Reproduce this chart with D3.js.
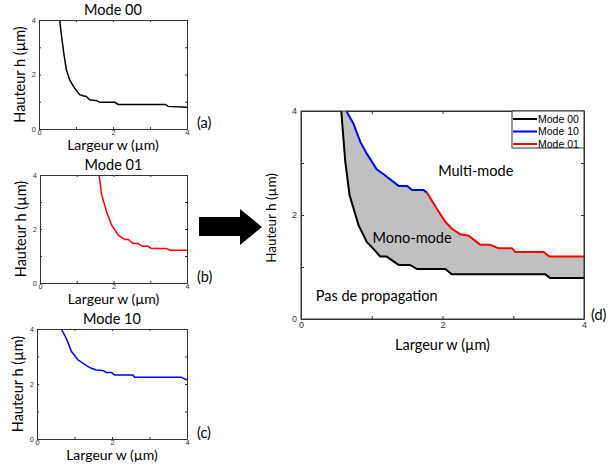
<!DOCTYPE html>
<html><head><meta charset="utf-8">
<script src="https://cdn.jsdelivr.net/npm/d3@7"></script>
<style>
body{margin:0;background:#fff;}
svg{display:block;}
</style></head>
<body>
<svg id="chart" width="610" height="466"></svg>
<script>
// ---- Data (w in µm, h in µm) ----
const mode00W = [0.56,0.60,0.67,0.74,0.83,0.96,1.10,1.23,1.27,1.37,1.50,1.55,1.64,2.05,2.14,3.42,3.49,4.0];
const mode00H = [4.0,3.51,2.78,2.17,1.80,1.50,1.26,1.20,1.20,1.07,1.05,1.05,0.98,0.98,0.90,0.90,0.83,0.80];

const mode01W = [1.61,1.67,1.81,1.95,2.13,2.31,2.40,2.53,2.67,2.79,2.94,3.03,3.44,3.53,4.0];
const mode01H = [4.0,3.32,2.64,2.14,1.77,1.61,1.61,1.46,1.46,1.36,1.36,1.28,1.28,1.21,1.21];

const mode10W = [0.65,0.78,0.92,1.09,1.32,1.45,1.58,1.76,1.85,1.98,2.07,2.56,2.60,3.85,3.94,4.0];
const mode10H = [4.0,3.66,3.18,2.88,2.67,2.57,2.51,2.49,2.42,2.42,2.33,2.33,2.25,2.25,2.18,2.15];

// Panel (d): cut-off curves
const dMode00W = [0.569,0.626,0.687,0.814,0.93,1.05,1.12,1.21,1.38,1.54,1.64,2.04,2.13,3.45,3.52,4.0];
const dMode00H = [4.0,3.02,2.38,1.80,1.48,1.31,1.20,1.20,1.04,1.04,0.96,0.96,0.86,0.86,0.79,0.79];
const dMode10W = [0.64,0.74,0.84,0.93,1.07,1.19,1.38,1.50,1.57,1.73,1.78];
const dMode10H = [4.0,3.76,3.40,3.18,2.88,2.76,2.56,2.56,2.48,2.48,2.43];
const dMode01W = [1.78,1.92,2.04,2.13,2.25,2.37,2.53,2.67,2.79,2.98,3.03,3.43,3.51,4.0];
const dMode01H = [2.43,2.12,1.87,1.74,1.63,1.60,1.43,1.43,1.36,1.36,1.29,1.29,1.20,1.20];

const axisTicks = [0,1,2,3,4];
const tickLabels = ["0","","2","","4"];
const legendNames = ["Mode 00","Mode 10","Mode 01"];
const legendColors = ["#000000","#0000ff","#ff0000"];
const regionLabels = ["Multi-mode","Mono-mode","Pas de propagation"];
const regionW = [2.47,1.57,1.07];
const regionH = [2.85,1.55,0.45];

const zip = (xs, ys) => xs.map((x,i)=>[x, ys[i]]);

const svg = d3.select("#chart");
const labelFont = "Lato, 'Open Sans', sans-serif";
const tickFont = "'Liberation Sans', Arial, sans-serif";

function panel(box, opts){
  const x = d3.scaleLinear().domain([0,4]).range([box.x0, box.x1]);
  const y = d3.scaleLinear().domain([0,4]).range([box.y1, box.y0]);
  const g = svg.append("g");
  const defsId = "clip" + opts.id;
  svg.append("clipPath").attr("id", defsId).append("rect")
    .attr("x", box.x0).attr("y", box.y0).attr("width", box.x1-box.x0).attr("height", box.y1-box.y0);

  // axes (inward ticks)
  const tl = opts.tickLen;
  const fmt = (d,i)=>tickLabels[i];
  const ax = [
    g.append("g").attr("transform",`translate(0,${box.y1})`).call(d3.axisBottom(x).tickValues(axisTicks).tickFormat(fmt).tickSizeInner(-tl).tickSizeOuter(0).tickPadding(opts.padX)),
    g.append("g").attr("transform",`translate(${box.x0},0)`).call(d3.axisLeft(y).tickValues(axisTicks).tickFormat(fmt).tickSizeInner(-tl).tickSizeOuter(0).tickPadding(opts.padY)),
    g.append("g").attr("transform",`translate(0,${box.y0})`).call(d3.axisTop(x).tickValues(axisTicks).tickFormat("").tickSizeInner(-tl).tickSizeOuter(0)),
    g.append("g").attr("transform",`translate(${box.x1},0)`).call(d3.axisRight(y).tickValues(axisTicks).tickFormat("").tickSizeInner(-tl).tickSizeOuter(0))
  ];
  ax.forEach(a=>{
    a.select(".domain").attr("stroke","#333");
    a.selectAll(".tick line").attr("stroke","#333");
    a.selectAll("text").attr("font-family",tickFont).attr("font-size",opts.tickSize).attr("fill","#333");
  });
  return {x,y,g,clip:"url(#"+defsId+")"};
}

const line = (sx,sy)=>d3.line().x(d=>sx(d[0])).y(d=>sy(d[1]));

function smallPanel(box, id, title, W, H, color, tag){
  const p = panel(box,{id, tickLen:2, tickSize:7.5, padX:1, padY:3});
  p.g.insert("path",":first-child").datum(zip(W,H)).attr("d", line(p.x,p.y))
    .attr("fill","none").attr("stroke",color).attr("stroke-width",1.5).attr("clip-path",p.clip);
  const cx = (box.x0+box.x1)/2;
  svg.append("text").attr("x",cx).attr("y",box.y0-5).attr("text-anchor","middle")
    .attr("font-family",labelFont).attr("font-size",14.5).text(title);
  svg.append("text").attr("x",cx).attr("y",box.y1+21).attr("text-anchor","middle")
    .attr("font-family",labelFont).attr("font-size",14).text("Largeur w (µm)");
  svg.append("text").attr("transform",`translate(${box.x0-14},${(box.y0+box.y1)/2}) rotate(-90)`)
    .attr("text-anchor","middle").attr("font-family",labelFont).attr("font-size",14.5).text("Hauteur h (µm)");
  svg.append("text").attr("x",197).attr("y",box.y1-1).attr("font-family",labelFont).attr("font-size",14.5).text(tag);
}

smallPanel({x0:39,x1:187,y0:20,y1:129},"a","Mode 00",mode00W,mode00H,"#000","(a)");
smallPanel({x0:40,x1:187,y0:175,y1:283},"b","Mode 01",mode01W,mode01H,"#ff0000","(b)");
smallPanel({x0:37,x1:187,y0:329,y1:439},"c","Mode 10",mode10W,mode10H,"#0000ff","(c)");

// ---- Panel (d) ----
const bd = {x0:301,x1:584,y0:111,y1:319};
const pd = panel(bd,{id:"d", tickLen:3, tickSize:9, padX:3, padY:4});
const upper = zip(dMode10W,dMode10H).concat(zip(dMode01W,dMode01H).slice(1));
const lower = zip(dMode00W,dMode00H);
const poly = upper.concat(lower.slice().reverse());
const dl = line(pd.x,pd.y);
const gd = svg.append("g").attr("clip-path",pd.clip);
gd.append("path").datum(poly).attr("d", dl(poly)+"Z").attr("fill","#c0c0c0").attr("stroke","none");
gd.append("path").datum(lower).attr("d",dl).attr("fill","none").attr("stroke","#000").attr("stroke-width",2);
gd.append("path").datum(zip(dMode10W,dMode10H)).attr("d",dl).attr("fill","none").attr("stroke","#0000ff").attr("stroke-width",2);
gd.append("path").datum(zip(dMode01W,dMode01H)).attr("d",dl).attr("fill","none").attr("stroke","#ff0000").attr("stroke-width",2);
// redraw frame on top
svg.append("rect").attr("x",bd.x0).attr("y",bd.y0).attr("width",bd.x1-bd.x0).attr("height",bd.y1-bd.y0)
  .attr("fill","none").attr("stroke","#333");

regionLabels.forEach((t,i)=>{
  svg.append("text").attr("x",pd.x(regionW[i])).attr("y",pd.y(regionH[i])).attr("dy","0.35em")
    .attr("text-anchor","middle").attr("font-family",labelFont).attr("font-size",14.5).text(t);
});

svg.append("text").attr("x",(bd.x0+bd.x1)/2).attr("y",350).attr("text-anchor","middle")
  .attr("font-family",labelFont).attr("font-size",14.5).text("Largeur w (µm)");
svg.append("text").attr("transform",`translate(276,${(bd.y0+bd.y1)/2+3}) rotate(-90)`)
  .attr("text-anchor","middle").attr("font-family",labelFont).attr("font-size",13.5).text("Hauteur h (µm)");
svg.append("text").attr("x",591).attr("y",320).attr("font-family",labelFont).attr("font-size",14.5).text("(d)");

// legend
const lg = svg.append("g");
lg.append("rect").attr("x",512).attr("y",bd.y0).attr("width",bd.x1-512).attr("height",37)
  .attr("fill","#fff").attr("stroke","#333");
legendNames.forEach((n,i)=>{
  const yy = 119 + i*12.5;
  lg.append("line").attr("x1",513).attr("x2",537).attr("y1",yy).attr("y2",yy)
    .attr("stroke",legendColors[i]).attr("stroke-width",2);
  lg.append("text").attr("x",538).attr("y",yy).attr("dy","0.35em")
    .attr("font-family",tickFont).attr("font-size",10.5).text(n);
});

// arrow
svg.append("path")
  .attr("d","M199,217 L240,217 L240,209 L262,227 L240,245 L240,236 L199,236 Z")
  .attr("fill","#000");
</script>
</body></html>
